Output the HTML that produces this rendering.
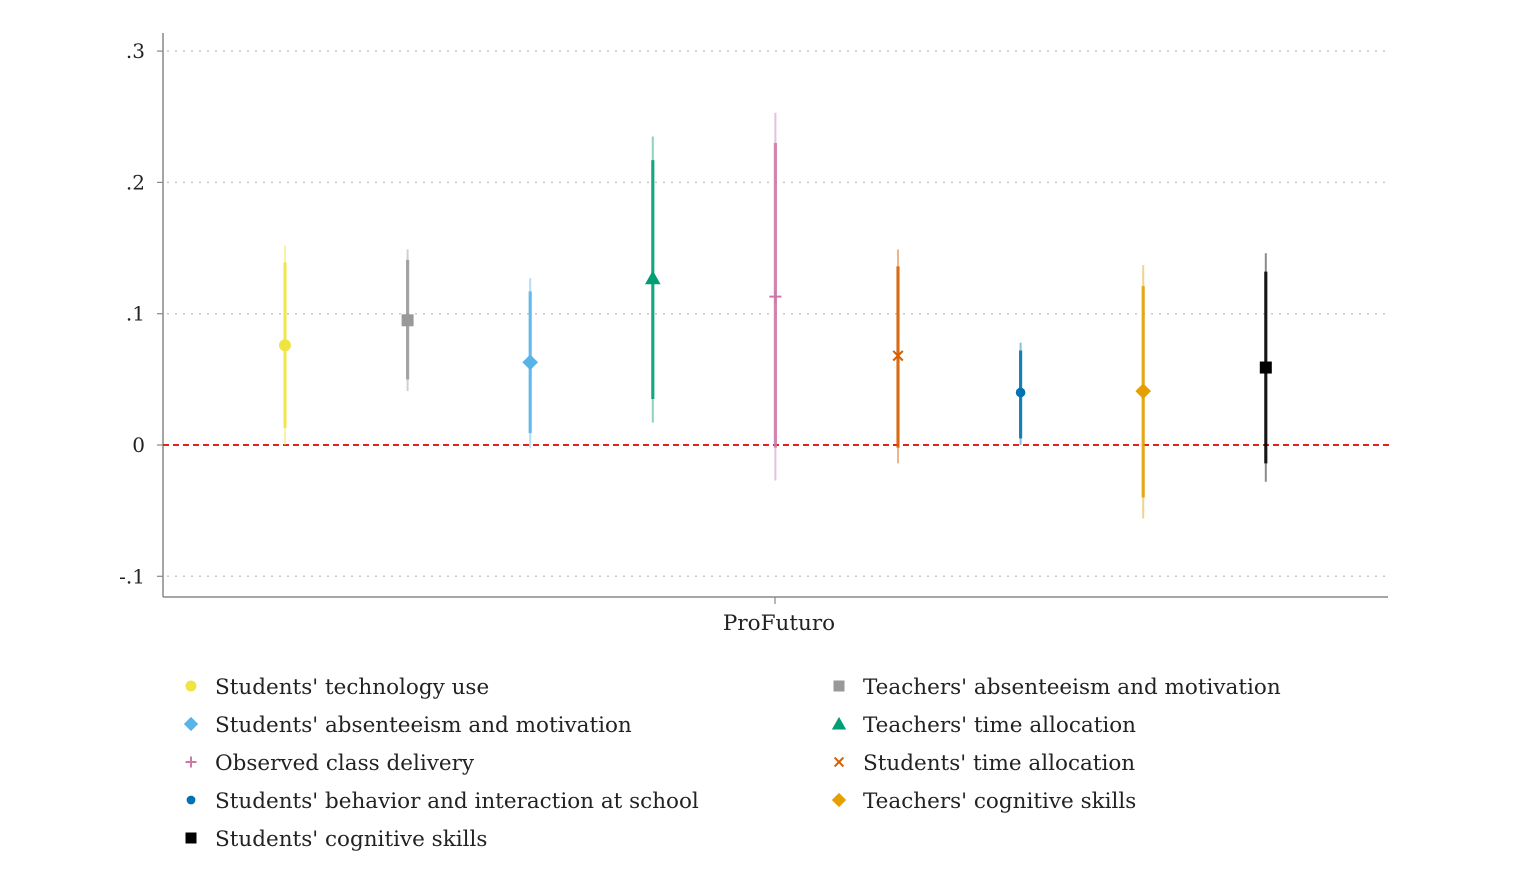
<!DOCTYPE html>
<html><head><meta charset="utf-8"><style>
body{margin:0;background:#fff;width:1533px;height:868px;overflow:hidden}
svg text{font-family:"DejaVu Serif","Liberation Serif",serif;fill:#222}
</style></head><body>
<svg id="chart" width="1533" height="868" xmlns="http://www.w3.org/2000/svg">
<g id="grid"></g>
<g id="axes"></g>
<g id="marks"></g>
<g id="legend"></g>
</svg>
<script>
const labels=["Students' technology use","Teachers' absenteeism and motivation","Students' absenteeism and motivation","Teachers' time allocation","Observed class delivery","Students' time allocation","Students' behavior and interaction at school","Teachers' cognitive skills","Students' cognitive skills"];
const est=[0.076,0.095,0.063,0.127,0.113,0.068,0.040,0.041,0.059];
const ci90lo=[0.013,0.050,0.009,0.035,-0.002,-0.002,0.005,-0.040,-0.014];
const ci90hi=[0.139,0.141,0.117,0.217,0.230,0.136,0.072,0.121,0.132];
const ci95lo=[0.000,0.041,-0.002,0.017,-0.027,-0.014,0.000,-0.056,-0.028];
const ci95hi=[0.152,0.149,0.127,0.235,0.253,0.149,0.078,0.137,0.146];
const yTicks=[-0.1,0,0.1,0.2,0.3];
const yTickLabels=["-.1","0",".1",".2",".3"];
const colors=["#f0e442","#999999","#56b4e9","#009e73","#cc79a7","#d55e00","#0072b2","#e69f00","#000000"];
const shapes=["circle","square","diamond","triangle","plus","x","circle-s","diamond","square"];
const NS="http://www.w3.org/2000/svg";
const y=v=>445-v*1313;
const x=i=>285+i*122.6;
function mk(p,t,a){const e=document.createElementNS(NS,t);for(const k in a)e.setAttribute(k,a[k]);p.appendChild(e);return e;}
const grid=document.getElementById('grid'),axes=document.getElementById('axes'),marks=document.getElementById('marks'),legend=document.getElementById('legend');
yTicks.forEach((t,i)=>{
  if(t!==0){const g=mk(grid,'line',{x1:167,x2:1385,y1:y(t),y2:y(t),stroke:'#c8c8c8','stroke-width':1.5,'stroke-dasharray':'2 6'});
  
  }
  const tk=mk(axes,'line',{x1:157,x2:163,y1:y(t),y2:y(t),stroke:'#888','stroke-width':1.2});
  
  
  const tl=mk(axes,'text',{x:145,y:y(t)+7,'text-anchor':'end','font-size':20});
  tl.textContent=yTickLabels[i];
  
  
});
const ya=mk(axes,'line',{x1:163,x2:163,y1:33,y2:597,stroke:'#888','stroke-width':1.5});


const xa=mk(axes,'line',{x1:163,x2:1388,y1:597,y2:597,stroke:'#888','stroke-width':1.5});


const xt=mk(axes,'line',{x1:775,x2:775,y1:597,y2:604,stroke:'#888','stroke-width':1.2});


const xl=mk(axes,'text',{x:779,y:630,'text-anchor':'middle','font-size':21.5});
xl.textContent="ProFuturo";


const zl=mk(axes,'line',{x1:163,x2:1390,y1:y(0),y2:y(0),stroke:'#e8201a','stroke-width':2,'stroke-dasharray':'6 4'});


function marker(p,s,cx,cy,c,r){
  let e;
  if(s==='circle')e=mk(p,'circle',{cx,cy,r:r,fill:c});
  else if(s==='circle-s')e=mk(p,'circle',{cx,cy,r:r*0.8,fill:c});
  else if(s==='square')e=mk(p,'rect',{x:cx-r,y:cy-r,width:2*r,height:2*r,fill:c});
  else if(s==='diamond')e=mk(p,'polygon',{points:`${cx},${cy-r*1.3} ${cx+r*1.3},${cy} ${cx},${cy+r*1.3} ${cx-r*1.3},${cy}`,fill:c});
  else if(s==='triangle')e=mk(p,'polygon',{points:`${cx},${cy-r*1.3} ${cx+r*1.3},${cy+r} ${cx-r*1.3},${cy+r}`,fill:c});
  else if(s==='plus')e=mk(p,'path',{d:`M${cx-r} ${cy}H${cx+r}M${cx} ${cy-r}V${cy+r}`,stroke:c,'stroke-width':2});
  else e=mk(p,'path',{d:`M${cx-r*0.8} ${cy-r*0.8}L${cx+r*0.8} ${cy+r*0.8}M${cx+r*0.8} ${cy-r*0.8}L${cx-r*0.8} ${cy+r*0.8}`,stroke:c,'stroke-width':2});
  return e;
}
est.forEach((v,i)=>{
  const g=mk(marks,'g',{});
  
  
  const t=mk(g,'line',{x1:x(i),x2:x(i),y1:y(ci95hi[i]),y2:y(ci95lo[i]),stroke:colors[i],'stroke-width':2,opacity:0.45});
  
  
  const k=mk(g,'line',{x1:x(i),x2:x(i),y1:y(ci90hi[i]),y2:y(ci90lo[i]),stroke:colors[i],'stroke-width':3.2,opacity:0.85});
  
  
  const m=marker(g,shapes[i],x(i),y(v),colors[i],6);
  
  
});
labels.forEach((l,i)=>{
  const col=i%2,row=Math.floor(i/2);
  const lx=col?839:191,ly=686+row*38;
  const g=mk(legend,'g',{});
  
  
  marker(g,shapes[i],lx,ly,colors[i],5.5);
  const t=mk(g,'text',{x:lx+24,y:ly+8,'font-size':21.5});
  t.textContent=l;
});
</script>
</body></html>
